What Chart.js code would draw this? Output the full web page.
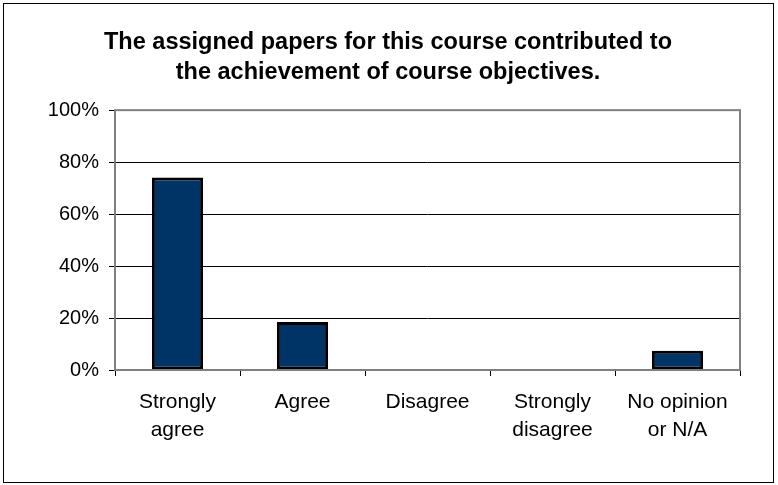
<!DOCTYPE html>
<html>
<head>
<meta charset="utf-8">
<script src="https://cdn.jsdelivr.net/npm/chart.js@4"></script>
<style>
  body { margin: 0; background: #fff; }
  #wrap { width: 778px; height: 485px; }
</style>
</head>
<body>
<div id="wrap"><canvas id="chart" width="778" height="485"></canvas></div>
<script>
const categories = [['Strongly', 'agree'], 'Agree', 'Disagree', ['Strongly', 'disagree'], ['No opinion', 'or N/A']]
const shares = [0.7407, 0.1852, 0, 0, 0.0741]
const yTicks = [0, 0.2, 0.4, 0.6, 0.8, 1]

// frame around the plot area and around the whole picture
const frames = {
  id: 'frames',
  afterDraw(chart) {
    const { ctx, chartArea: a } = chart
    ctx.save()
    ctx.strokeStyle = '#808080'
    ctx.lineWidth = 2
    ctx.strokeRect(a.left, a.top, a.right - a.left, a.bottom - a.top)
    ctx.strokeStyle = '#000'
    ctx.lineWidth = 1
    ctx.strokeRect(3.5, 3.5, 770, 479)
    ctx.restore()
  }
}

const ctx = document.getElementById('chart').getContext('2d')
Chart.defaults.font.family = '"Liberation Sans", Arial, sans-serif'
Chart.defaults.color = '#000'

new Chart(ctx, {
  type: 'bar',
  data: {
    labels: categories,
    datasets: [
      {
        data: shares,
        backgroundColor: '#003366',
        borderColor: '#000',
        borderWidth: 3,
        borderSkipped: false,
        barPercentage: 0.41,
        categoryPercentage: 1
      }
    ]
  },
  options: {
    responsive: false,
    animation: false,
    layout: { padding: { left: 36, right: 38, top: 0, bottom: 0 } },
    scales: {
      x: {
        grid: { drawOnChartArea: false, tickLength: 6, tickColor: '#000' },
        border: { display: false },
        ticks: { font: { size: 21, lineHeight: 1.3 }, padding: 13, maxRotation: 0 },
        afterFit: (s) => { s.height = 115 }
      },
      y: {
        min: 0,
        max: 1,
        afterBuildTicks: (s) => { s.ticks = yTicks.map((v) => ({ value: v })) },
        grid: { color: '#000', tickLength: 6, tickColor: '#000' },
        border: { display: false },
        ticks: {
          font: { size: 20 },
          padding: 10,
          callback: (v) => Math.round(v * 100) + '%'
        },
        afterFit: (s) => { s.width = 79 }
      }
    },
    plugins: {
      legend: { display: false },
      tooltip: { enabled: false },
      title: {
        display: true,
        text: ['The assigned papers for this course contributed to', 'the achievement of course objectives.'],
        font: { size: 23.5, weight: 'bold', lineHeight: 1.28 },
        color: '#000',
        padding: { top: 27, bottom: 23 }
      }
    }
  },
  plugins: [frames]
})
</script>
</body>
</html>
